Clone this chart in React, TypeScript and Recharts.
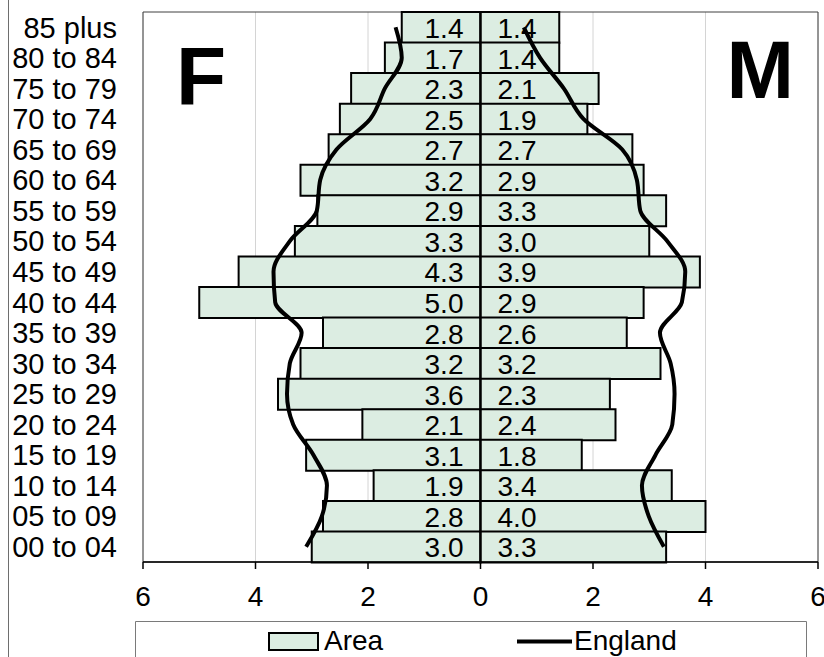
// Population pyramid: Area (bars) vs England (smoothed line), % of population by age band.
import {
  ComposedChart,
  Bar,
  Line,
  XAxis,
  YAxis,
  CartesianGrid,
  ReferenceLine,
  ReferenceArea,
  LabelList,
  Legend,
} from "recharts";

const AGE_BANDS = [
  "85 plus", "80 to 84", "75 to 79", "70 to 74", "65 to 69", "60 to 64",
  "55 to 59", "50 to 54", "45 to 49", "40 to 44", "35 to 39", "30 to 34",
  "25 to 29", "20 to 24", "15 to 19", "10 to 14", "05 to 09", "00 to 04",
];

const AREA_FEMALE = [1.4, 1.7, 2.3, 2.5, 2.7, 3.2, 2.9, 3.3, 4.3, 5.0, 2.8, 3.2, 3.6, 2.1, 3.1, 1.9, 2.8, 3.0];
const AREA_MALE = [1.4, 1.4, 2.1, 1.9, 2.7, 2.9, 3.3, 3.0, 3.9, 2.9, 2.6, 3.2, 2.3, 2.4, 1.8, 3.4, 4.0, 3.3];

// England shares
const ENGLAND_FEMALE = [1.51, 1.4, 1.7, 1.96, 2.56, 2.85, 2.91, 3.39, 3.68, 3.65, 3.18, 3.39, 3.44, 3.33, 2.97, 2.73, 2.82, 3.1];
const ENGLAND_MALE = [0.77, 1.06, 1.48, 1.83, 2.52, 2.78, 2.84, 3.32, 3.64, 3.58, 3.19, 3.38, 3.45, 3.41, 3.11, 2.87, 2.99, 3.26];

const X_TICKS = [-6, -4, -2, 0, 2, 4, 6];

const FONT = "Arial, 'Liberation Sans', sans-serif";
const FILL = "#dcede2";

const data = AGE_BANDS.map((age, i) => ({
  age,
  female: -AREA_FEMALE[i],
  male: AREA_MALE[i],
  engFemale: -ENGLAND_FEMALE[i],
  engMale: ENGLAND_MALE[i],
}));

// value labels sit a fixed distance either side of the zero line
const makeLabel = (side: "f" | "m") => (props: any) => {
  const { x, y, width, height, value } = props;
  const zero = side === "f" ? Math.max(x, x + width) : Math.min(x, x + width);
  const cx = side === "f" ? zero - 36.5 : zero + 36.5;
  return (
    <text
      x={cx}
      y={y + height / 2 + 10.5}
      textAnchor="middle"
      fontSize={28}
      fontFamily={FONT}
      fill="#000"
    >
      {Math.abs(Number(value)).toFixed(1)}
    </text>
  );
};

const renderLegend = () => (
  <svg width={672} height={36} style={{ display: "block" }}>
    <path d="M0.5,36 V0.5 H671.5 V36" fill="none" stroke="#7a7a7a" strokeWidth={1} />
    <rect x={134} y={12} width={49} height={17} fill={FILL} stroke="#000" strokeWidth={2} />
    <text x={189} y={29} fontSize={28} fontFamily={FONT} fill="#000">Area</text>
    <line x1={382} x2={437} y1={20.5} y2={20.5} stroke="#000" strokeWidth={4} />
    <text x={439} y={29} fontSize={28} fontFamily={FONT} fill="#000">England</text>
  </svg>
);

export default function App() {
  return (
    <div
      style={{
        position: "absolute",
        left: 0,
        top: 0,
        width: 824,
        height: 657,
        overflow: "hidden",
        background: "#fff",
        fontFamily: FONT,
      }}
    >
      <div style={{ position: "absolute", left: 8, top: 0, height: 657, borderLeft: "1px solid #6e6e6e" }} />
      <ComposedChart
        width={824}
        height={657}
        data={data}
        layout="vertical"
        stackOffset="sign"
        barCategoryGap={0}
        margin={{ top: 12, right: 6, bottom: 0, left: 0 }}
      >
        <CartesianGrid horizontal={false} stroke="#d4d4d4" strokeWidth={1} />
        <XAxis
          type="number"
          domain={[-6, 6]}
          ticks={X_TICKS}
          interval={0}
          tickFormatter={(v: number) => String(Math.abs(v))}
          height={59}
          tickSize={7}
          tickMargin={17}
          axisLine={{ stroke: "#000", strokeWidth: 1.5 }}
          tickLine={{ stroke: "#000", strokeWidth: 1.5 }}
          tick={{ fontSize: 28, fontFamily: FONT, fill: "#000" }}
        />
        <YAxis
          type="category"
          dataKey="age"
          width={143}
          interval={0}
          tickSize={0}
          tickMargin={26}
          axisLine={false}
          tickLine={false}
          tick={{ fontSize: 29, fontFamily: FONT, fill: "#000" }}
        />
        <Bar dataKey="female" name="Area" stackId="a" fill={FILL} stroke="#000" strokeWidth={2} isAnimationActive={false}>
          <LabelList dataKey="female" content={makeLabel("f")} />
        </Bar>
        <Bar dataKey="male" name="Area" stackId="a" fill={FILL} stroke="#000" strokeWidth={2} legendType="none" isAnimationActive={false}>
          <LabelList dataKey="male" content={makeLabel("m")} />
        </Bar>
        <ReferenceLine x={0} stroke="#000" strokeWidth={2} />
        <ReferenceArea x1={-6} x2={6} fill="none" stroke="#404040" strokeWidth={1} />
        <Line
          dataKey="engFemale"
          name="England"
          type="monotone"
          stroke="#000"
          strokeWidth={4}
          dot={false}
          activeDot={false}
          isAnimationActive={false}
        />
        <Line
          dataKey="engMale"
          name="England"
          type="monotone"
          stroke="#000"
          strokeWidth={4}
          dot={false}
          activeDot={false}
          legendType="none"
          isAnimationActive={false}
        />
        <Legend
          verticalAlign="bottom"
          content={renderLegend}
          wrapperStyle={{ left: 135, bottom: 0, width: 672, height: 36 }}
        />
      </ComposedChart>
      <svg
        width={824}
        height={657}
        style={{ position: "absolute", left: 0, top: 0, pointerEvents: "none" }}
      >
        <text x={176} y={105} fontSize={82} fontWeight="bold" fontFamily={FONT} fill="#000">F</text>
        <text x={794} y={98} fontSize={81} fontWeight="bold" fontFamily={FONT} fill="#000" textAnchor="end">M</text>
      </svg>
    </div>
  );
}
